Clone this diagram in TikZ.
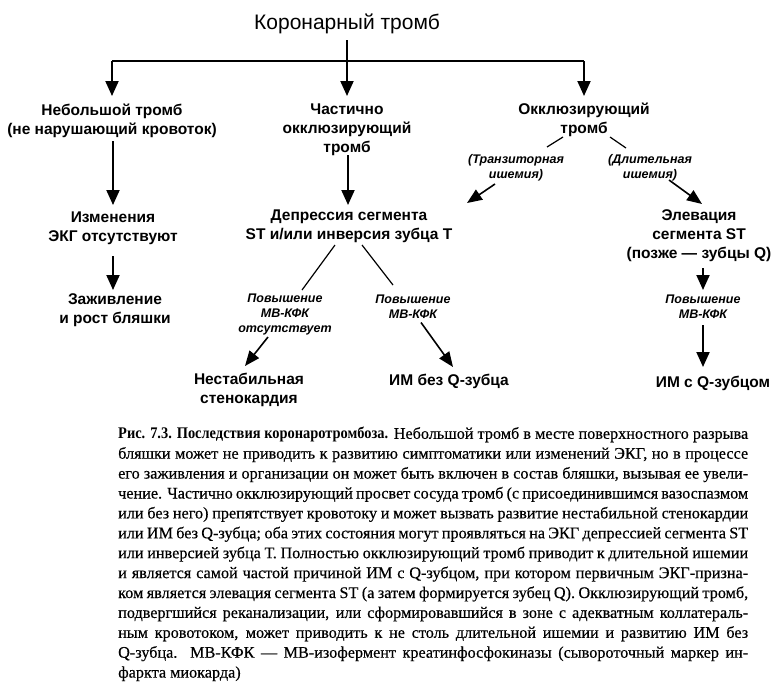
\documentclass[tikz,border=0pt]{standalone}
\usepackage{fontspec}
\setmainfont{Liberation Serif}
\newfontfamily\dfont{Liberation Sans}
\newfontfamily\capfont{Liberation Serif}[FakeBold=0.4]
\newfontfamily\capbf{Liberation Serif}[FakeStretch=0.89]
\usetikzlibrary{arrows.meta,calc}
\begin{document}
\begin{tikzpicture}[x=1pt,y=-1pt,
  ttl/.style={font=\dfont\fontsize{21}{25}\selectfont, inner sep=0pt},
  txt/.style={font=\dfont\bfseries\fontsize{15.5}{19}\selectfont, align=center, inner sep=0pt},
  lab/.style={font=\dfont\bfseries\itshape\fontsize{12.5}{15}\selectfont, align=center, inner sep=0pt},
  arr/.style={line width=2pt, -{Triangle[length=15pt,width=13pt]}},
  darr/.style={line width=1.6pt, -{Triangle[length=15pt,width=12pt]}},
  ln/.style={line width=2pt},
  thin/.style={line width=1.2pt},
]
\fill[white] (0,0) rectangle (778,697);
\useasboundingbox (0,0) rectangle (778,697);

% nodes
\node[ttl] (title) at (347,23.5) {Коронарный тромб};
\node[txt] (small) at (112,120.5) {Небольшой тромб\\(не нарушающий кровоток)};
\node[txt] (partial) at (347,129.5) {Частично\\окклюзирующий\\тромб};
\node[txt] (occl) at (584,120) {Окклюзирующий\\тромб};
\node[txt] (ekg) at (113,228.5) {Изменения\\ЭКГ отсутствуют};
\node[txt] (heal) at (115,310) {Заживление\\и рост бляшки};
\node[txt] (depr) at (349,226) {Депрессия сегмента\\ST и/или инверсия зубца T};
\node[txt] (elev) at (699,235.5) {Элевация\\сегмента ST\\(позже — зубцы Q)};
\node[txt] (unstable) at (249,390) {Нестабильная\\стенокардия};
\node[txt] (minoq) at (449,381) {ИМ без Q-зубца};
\node[txt] (miq) at (713,383) {ИМ с Q-зубцом};
\node[lab] (trans) at (516,168) {(Транзиторная\\ишемия)};
\node[lab] (long) at (650,168) {(Длительная\\ишемия)};
\node[lab] (kfkno) at (285,314) {Повышение\\МВ-КФК\\отсутствует};
\node[lab] (kfk1) at (413,306.5) {Повышение\\МВ-КФК};
\node[lab] (kfk2) at (703,306.5) {Повышение\\МВ-КФК};

\coordinate (split) at (347,61);

% connectors
\draw[arr] ($(title)+(0,16.5)$) -- ($(partial)+(0,-33.5)$);
\draw[ln] (small |- split) -- (occl |- split);
\draw[arr] (small |- split) -- ($(small)+(0,-24.5)$);
\draw[arr] (occl |- split) -- ($(occl)+(0,-24)$);
\draw[arr] ($(small)+(1,20.5)$) -- ($(ekg)+(0,-23.5)$);
\draw[arr] ($(ekg)+(0,27.5)$) -- ($(heal)+(-2,-20)$);
\draw[arr] ($(partial)+(1,25.5)$) -- ($(depr)+(-1,-21)$);
\draw[thin] ($(occl)+(-21,17)$) -- ($(trans)+(31,-21)$);
\draw[darr] ($(trans)+(-21,16)$) -- ($(depr)+(118,-23)$);
\draw[thin] ($(occl)+(26,17)$) -- ($(long)+(-24,-20)$);
\draw[darr] ($(long)+(19,12)$) -- ($(elev)+(3,-31.5)$);
\draw[arr] ($(elev)+(4,32.5)$) -- ($(kfk2)+(0,-16.5)$);
\draw[arr] ($(kfk2)+(0,18.5)$) -- ($(miq)+(-10,-16)$);
\draw[thin] ($(depr)+(-14,19)$) -- ($(kfkno)+(17,-24)$);
\draw[darr] ($(kfkno)+(-17,23)$) -- ($(unstable)+(-4,-24)$);
\draw[thin] ($(depr)+(13,19)$) -- ($(kfk1)+(-20,-21.5)$);
\draw[darr] ($(kfk1)+(8,16)$) -- ($(minoq)+(4,-14)$);

% caption
\node[anchor=north west, inner sep=0pt, text width=630pt, align=justify,
  font={\capfont\fontsize{16.2}{19.9}\selectfont\hyphenpenalty=10000 \exhyphenpenalty=10000 \tolerance=10000 \hbadness=10000 \emergencystretch=0pt}]
  (cap) at (118,427) {{\capbf\bfseries Рис. 7.3. Последствия коронаротромбоза.} Небольшой тромб в месте поверхностного разрыва\linebreak
бляшки может не приводить к развитию симптоматики или изменений ЭКГ, но в процессе\linebreak
его заживления и организации он может быть включен в состав бляшки, вызывая ее увели-\linebreak
чение. Частично окклюзирующий просвет сосуда тромб (с присоединившимся вазоспазмом\linebreak
или без него) препятствует кровотоку и может вызвать развитие нестабильной стенокардии\linebreak
или ИМ без Q-зубца; оба этих состояния могут проявляться на ЭКГ депрессией сегмента ST\linebreak
или инверсией зубца Т. Полностью окклюзирующий тромб приводит к длительной ишемии\linebreak
и является самой частой причиной ИМ с Q-зубцом, при котором первичным ЭКГ-призна-\linebreak
ком является элевация сегмента ST (а затем формируется зубец Q). Окклюзирующий тромб,\linebreak
подвергшийся реканализации, или сформировавшийся в зоне с адекватным коллатераль-\linebreak
ным кровотоком, может приводить к не столь длительной ишемии и развитию ИМ без\linebreak
Q-зубца. МВ-КФК — МВ-изофермент креатинфосфокиназы (сывороточный маркер ин-\linebreak
фаркта миокарда)};
\end{tikzpicture}
\end{document}
